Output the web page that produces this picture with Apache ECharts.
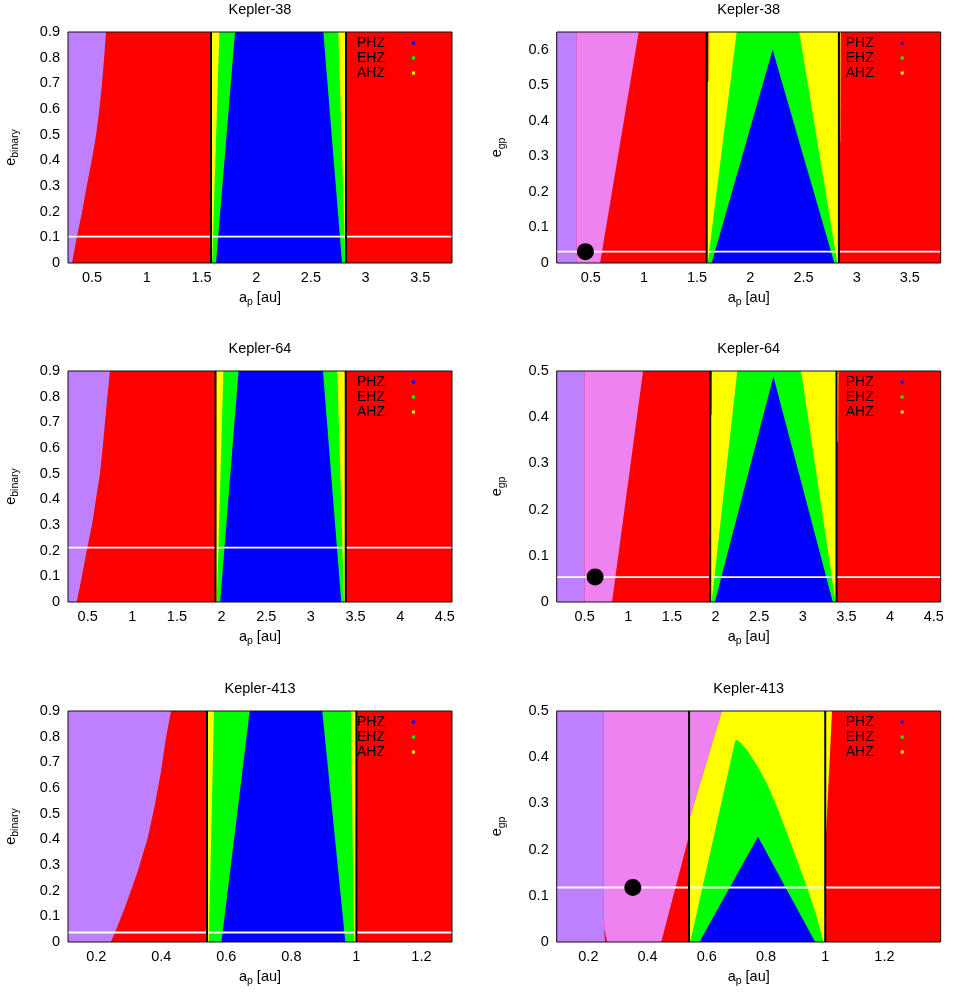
<!DOCTYPE html>
<html>
<head>
<meta charset="utf-8">
<title>Kepler-38, Kepler-64, Kepler-413 habitable zones</title>
<script src="https://cdn.jsdelivr.net/npm/echarts@6/dist/echarts.min.js"></script>
<style>
  html, body { margin: 0; padding: 0; background: #fff; }
  #main { width: 957px; height: 994px; }
</style>
</head>
<body>
<div id="main"></div>
<script>
// ---- values --------------------------------------------------------------

// tick labels
const yTicksBinary = [0, 0.1, 0.2, 0.3, 0.4, 0.5, 0.6, 0.7, 0.8, 0.9];
const yTicksGiant38 = [0, 0.1, 0.2, 0.3, 0.4, 0.5, 0.6];
const yTicksGiant = [0, 0.1, 0.2, 0.3, 0.4, 0.5];
const xTicks38 = [0.5, 1, 1.5, 2, 2.5, 3, 3.5];
const xTicks64 = [0.5, 1, 1.5, 2, 2.5, 3, 3.5, 4, 4.5];
const xTicks413b = [0.2, 0.4, 0.6, 0.8, 1, 1.2];
const xTicks413g = [0.2, 0.4, 0.6, 0.8, 1, 1.2, 1.4];

// a_p axis ranges [min, max]
const x38b = [0.28, 3.79];
const x38g = [0.18, 3.79];
const x64b = [0.28, 4.58];
const x64g = [0.18, 4.58];
const x413b = [0.113, 1.294];
const x413g = [0.093, 1.39];

// habitable zone borders (black lines) [inner, outer] in au
const hz38b = [1.587, 2.821];
const hz38g = [1.59, 2.833];
const hz64b = [1.932, 3.39];
const hz64g = [1.939, 3.386];
const hz413b = [0.5405, 1.0];
const hz413g = [0.54, 1.0];

// eccentricities (white lines) and planet semi-major axes (black dots)
const eBinary = [0.103, 0.212, 0.037];
const eGiant = [0.032, 0.054, 0.118];
const planetA = [0.45, 0.62, 0.35];

// regions, painted in order: [zone, [[a_p, e], ...]]
const k38bRegions = [
  ['outside', [[0.28, 0], [3.79, 0], [3.79, 0.9], [0.28, 0.9]]],
  ['unstableBinary', [[0.28, 0], [0.317, 0], [0.36, 0.1], [0.409, 0.2], [0.451, 0.3], [0.497, 0.4],
    [0.537, 0.5], [0.567, 0.6], [0.591, 0.7], [0.61, 0.8], [0.628, 0.9], [0.28, 0.9]]],
  ['AHZ', [[1.587, 0], [2.821, 0], [2.821, 0.9], [1.587, 0.9]]],
  ['EHZ', [[1.597, 0], [2.815, 0], [2.751, 0.9], [1.664, 0.9]]],
  ['PHZ', [[1.633, 0], [2.785, 0], [2.614, 0.9], [1.807, 0.9]]]
];

const k38gRegions = [
  ['outside', [[0.18, 0], [3.79, 0], [3.79, 0.65], [0.18, 0.65]]],
  ['unstableBinary', [[0.18, 0], [0.368, 0], [0.368, 0.65], [0.18, 0.65]]],
  ['unstableGiant', [[0.368, 0], [0.588, 0], [0.951, 0.65], [0.368, 0.65]]],
  ['AHZ', [[1.59, 0], [2.833, 0], [2.833, 0.65], [1.59, 0.65]]],
  ['EHZ', [[1.6, 0], [2.818, 0], [2.46, 0.65], [1.872, 0.65]]],
  ['PHZ', [[1.637, 0], [2.79, 0], [2.21, 0.6]]],
  ['outside', [[1.59, 0.51], [1.59, 0.65], [1.608, 0.65], [1.606, 0.51]]],
  ['AHZ', [[2.833, 0.34], [2.833, 0.65], [2.85, 0.65], [2.846, 0.34]]]
];

const k64bRegions = [
  ['outside', [[0.28, 0], [4.58, 0], [4.58, 0.9], [0.28, 0.9]]],
  ['unstableBinary', [[0.28, 0], [0.377, 0], [0.436, 0.1], [0.489, 0.2], [0.549, 0.3], [0.593, 0.4],
    [0.638, 0.5], [0.668, 0.6], [0.694, 0.7], [0.721, 0.8], [0.75, 0.9], [0.28, 0.9]]],
  ['AHZ', [[1.932, 0], [3.39, 0], [3.39, 0.9], [1.932, 0.9]]],
  ['EHZ', [[1.947, 0], [3.371, 0], [3.296, 0.9], [2.02, 0.9]]],
  ['PHZ', [[1.984, 0], [3.34, 0], [3.135, 0.9], [2.19, 0.9]]]
];

const k64gRegions = [
  ['outside', [[0.18, 0], [4.58, 0], [4.58, 0.5], [0.18, 0.5]]],
  ['unstableBinary', [[0.18, 0], [0.5, 0], [0.5, 0.5], [0.18, 0.5]]],
  ['unstableGiant', [[0.5, 0], [0.814, 0], [1.17, 0.5], [0.5, 0.5]]],
  ['AHZ', [[1.939, 0], [3.386, 0], [3.386, 0.5], [1.939, 0.5]]],
  ['EHZ', [[1.955, 0], [3.375, 0], [2.98, 0.5], [2.249, 0.5]]],
  ['PHZ', [[1.993, 0], [3.344, 0], [2.663, 0.488]]],
  ['outside', [[1.939, 0.405], [1.939, 0.5], [1.958, 0.5], [1.956, 0.405]]],
  ['AHZ', [[3.386, 0.347], [3.386, 0.5], [3.408, 0.5], [3.404, 0.347]]]
];

const k413bRegions = [
  ['outside', [[0.113, 0], [1.294, 0], [1.294, 0.9], [0.113, 0.9]]],
  ['unstableBinary', [[0.113, 0], [0.245, 0], [0.268, 0.07], [0.291, 0.144], [0.327, 0.274], [0.358, 0.404],
    [0.38, 0.534], [0.399, 0.664], [0.414, 0.794], [0.43, 0.9], [0.113, 0.9]]],
  ['AHZ', [[0.5405, 0], [1.0, 0], [1.0, 0.9], [0.5405, 0.9]]],
  ['EHZ', [[0.546, 0], [0.993, 0], [0.983, 0.9], [0.562, 0.9]]],
  ['PHZ', [[0.585, 0], [0.966, 0], [0.895, 0.9], [0.672, 0.9]]]
];

const k413gRegions = [
  ['outside', [[0.093, 0], [1.39, 0], [1.39, 0.5], [0.093, 0.5]]],
  ['unstableBinary', [[0.093, 0], [0.262, 0], [0.251, 0.054], [0.251, 0.5], [0.093, 0.5]]],
  ['unstableGiant', [[0.262, 0], [0.446, 0], [0.54, 0.23], [0.542, 0.267], [0.651, 0.5],
    [0.251, 0.5], [0.251, 0.054]]],
  ['AHZ', [[0.54, 0], [1.0, 0], [1.0, 0.5], [0.651, 0.5], [0.542, 0.267], [0.54, 0.23]]],
  ['EHZ', [[0.544, 0], [0.994, 0], [0.972, 0.054], [0.938, 0.119], [0.905, 0.177], [0.871, 0.235],
    [0.837, 0.293], [0.803, 0.343], [0.769, 0.383], [0.7355, 0.4155], [0.716, 0.43], [0.703, 0.437],
    [0.696, 0.436]]],
  ['PHZ', [[0.575, 0], [0.966, 0], [0.773, 0.228]]],
  ['AHZ', [[1.0, 0.2], [1.0, 0.5], [1.023, 0.5]]],
  ['outside', [[0.2515, 0.03], [0.257, 0], [0.264, 0]]]
];

const legendNames = ['PHZ', 'EHZ', 'AHZ'];

// ---- styles and layout ----------------------------------------------------

const FONT = 'Liberation Sans, Arial, Helvetica, sans-serif';

const zoneColors = {
  outside: '#ff0000',
  unstableBinary: '#bf80ff',
  unstableGiant: '#ee82ee',
  AHZ: '#ffff00',
  EHZ: '#00ff00',
  PHZ: '#0000ff'
};

const gridLeft = [68, 556.7];
const gridTop = [32, 371, 711];
const gridWidth = 384;
const gridHeight = 231;

const panels = [
  { title: 'Kepler-38', ySub: 'binary', xRange: x38b, yMax: 0.9, xTicks: xTicks38, yTicks: yTicksBinary,
    regions: k38bRegions, hz: hz38b, e: eBinary[0], planet: null },
  { title: 'Kepler-38', ySub: 'gp', xRange: x38g, yMax: 0.65, xTicks: xTicks38, yTicks: yTicksGiant38,
    regions: k38gRegions, hz: hz38g, e: eGiant[0], planet: planetA[0] },
  { title: 'Kepler-64', ySub: 'binary', xRange: x64b, yMax: 0.9, xTicks: xTicks64, yTicks: yTicksBinary,
    regions: k64bRegions, hz: hz64b, e: eBinary[1], planet: null },
  { title: 'Kepler-64', ySub: 'gp', xRange: x64g, yMax: 0.5, xTicks: xTicks64, yTicks: yTicksGiant,
    regions: k64gRegions, hz: hz64g, e: eGiant[1], planet: planetA[1] },
  { title: 'Kepler-413', ySub: 'binary', xRange: x413b, yMax: 0.9, xTicks: xTicks413b, yTicks: yTicksBinary,
    regions: k413bRegions, hz: hz413b, e: eBinary[2], planet: null },
  { title: 'Kepler-413', ySub: 'gp', xRange: x413g, yMax: 0.5, xTicks: xTicks413g, yTicks: yTicksGiant,
    regions: k413gRegions, hz: hz413g, e: eGiant[2], planet: planetA[2] }
];

// main text padded at the bottom, subscript padded at the top: the subscript sits lower
function nameRich() {
  return {
    m: { fontSize: 14.5, lineHeight: 14, padding: [0, 0, 5, 0], fontFamily: FONT, color: '#000' },
    s: { fontSize: 10.5, lineHeight: 10, padding: [5, 0, 0, 0], fontFamily: FONT, color: '#000' }
  };
}

const grids = [], xAxes = [], yAxes = [], titles = [], legends = [], series = [];

panels.forEach(function (p, i) {
  const left = gridLeft[i % 2];
  const top = gridTop[Math.floor(i / 2)];

  grids.push({
    left: left, top: top, width: gridWidth, height: gridHeight,
    show: true, borderColor: '#111', borderWidth: 1, backgroundColor: 'transparent',
    z: 10, containLabel: false, outerBoundsMode: 'none'
  });

  titles.push({
    text: p.title, left: left + gridWidth / 2, top: top - 30, textAlign: 'center', padding: 0,
    textStyle: { fontSize: 14.5, fontWeight: 'normal', color: '#000', fontFamily: FONT, lineHeight: 16 }
  });

  xAxes.push({
    type: 'value', gridIndex: i, min: p.xRange[0], max: p.xRange[1],
    name: '{m|a}{s|p}{m| [au]}', nameLocation: 'middle', nameGap: 30, nameMoveOverlap: false,
    nameTextStyle: { rich: nameRich() },
    axisLine: { show: false }, axisTick: { show: false }, splitLine: { show: false },
    axisLabel: { customValues: p.xTicks, margin: 7, fontSize: 14.5, color: '#000', fontFamily: FONT }
  });

  yAxes.push({
    type: 'value', gridIndex: i, min: 0, max: p.yMax,
    name: '{m|e}{s|' + p.ySub + '}', nameLocation: 'middle', nameGap: i % 2 ? 50 : 48, nameMoveOverlap: false,
    nameTextStyle: { rich: nameRich() },
    axisLine: { show: false }, axisTick: { show: false }, splitLine: { show: false },
    axisLabel: { customValues: p.yTicks, margin: 8, fontSize: 14.5, color: '#000', fontFamily: FONT }
  });

  legends.push({
    left: left + 289, top: top + 3.5, orient: 'vertical', align: 'right', padding: 0,
    itemWidth: 3, itemHeight: 3, itemGap: 0, icon: 'rect', selectedMode: false,
    textStyle: { fontSize: 14, lineHeight: 15, color: '#000', fontFamily: FONT, padding: [0, 22, 0, 0] },
    data: legendNames
  });

  // coloured regions
  series.push({
    type: 'custom', xAxisIndex: i, yAxisIndex: i, silent: true, clip: true, z: 1,
    data: p.regions.map(function (r, k) { return [r[1][0][0], r[1][0][1], k]; }),
    renderItem: function (params, api) {
      const r = p.regions[params.dataIndex];
      return {
        type: 'polygon',
        shape: { points: r[1].map(function (pt) { return api.coord(pt); }) },
        style: { fill: zoneColors[r[0]] }
      };
    }
  });

  // eccentricity line
  series.push({
    type: 'line', xAxisIndex: i, yAxisIndex: i, silent: true, z: 3, symbol: 'none',
    lineStyle: { color: '#fff', width: 1.8 },
    data: [[p.xRange[0], p.e], [p.xRange[1], p.e]]
  });

  // habitable zone borders
  p.hz.forEach(function (x) {
    series.push({
      type: 'line', xAxisIndex: i, yAxisIndex: i, silent: true, z: 4, symbol: 'none',
      lineStyle: { color: '#000', width: 2 },
      data: [[x, 0], [x, p.yMax]]
    });
  });

  // planet
  if (p.planet !== null) {
    series.push({
      type: 'scatter', xAxisIndex: i, yAxisIndex: i, silent: true, z: 5,
      symbolSize: 17, itemStyle: { color: '#000', opacity: 1 },
      data: [[p.planet, p.e]]
    });
  }
});

// legend entries (no data of their own)
legendNames.forEach(function (name) {
  series.push({
    type: 'scatter', name: name, xAxisIndex: 0, yAxisIndex: 0, data: [],
    itemStyle: { color: zoneColors[name], opacity: 1 }
  });
});

const option = {
  animation: false,
  backgroundColor: '#fff',
  title: titles,
  legend: legends,
  grid: grids,
  xAxis: xAxes,
  yAxis: yAxes,
  series: series
};

const chartDom = document.getElementById('main');
const myChart = echarts.init(chartDom);
myChart.setOption(option);
</script>
</body>
</html>
